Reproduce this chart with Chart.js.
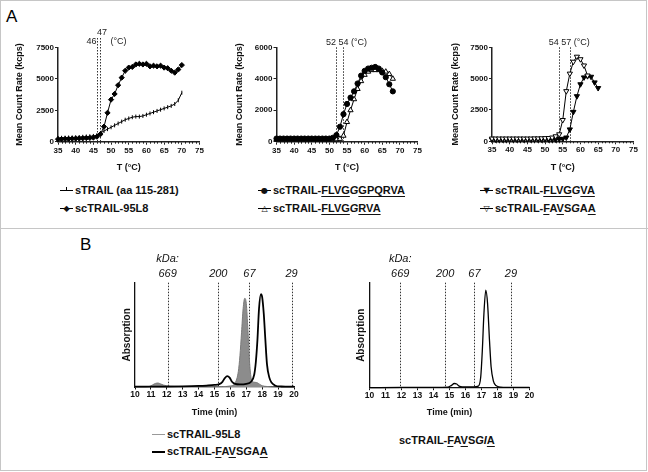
<!DOCTYPE html>
<html><head><meta charset="utf-8">
<script src="https://cdn.jsdelivr.net/npm/chart.js@4.4.1/dist/chart.umd.min.js"></script>
<style>
body{margin:0;background:#fff;}
#fig{position:relative;width:648px;height:472px;overflow:hidden;font-family:"Liberation Sans",Arial,sans-serif;color:#000;background:#fff}
.frame{position:absolute;left:0px;top:0px;width:645px;height:469px;border:1.5px solid #c6c6c6}
.divider{position:absolute;left:0px;top:228px;width:648px;height:0;border-top:1.5px solid #c6c6c6}
canvas{position:absolute}
.panel{position:absolute;font-size:17px;line-height:17px}
.leg{position:absolute;font-weight:bold;font-size:11px;line-height:13px;white-space:nowrap;color:#111}
.leg u{text-underline-offset:1.5px}
.leg .it{font-style:italic}
.mk{display:inline-block;position:relative;width:13px;height:11px;vertical-align:-2px;margin-right:2px}
.mk .ln{position:absolute;left:0;right:0;top:5px;height:0;border-top:1px solid #000}
.mk .g{position:absolute;left:50%;top:5.5px;transform:translate(-50%,-50%);font-size:8px;line-height:8px;font-family:"DejaVu Sans",sans-serif;font-weight:normal;font-style:normal;background:transparent}
.mk .vt{position:absolute;left:6px;top:2px;width:1px;height:4px;background:#000}
.mk .thin{border-top:1px solid #999}
.mk .thick{border-top:2px solid #000;top:4.5px}
</style>
</head><body>
<div id="fig">
  <div class="frame"></div>
  <div class="divider"></div>
  <div class="panel" style="left:6px;top:8px">A</div>
  <div class="panel" style="left:80px;top:236px">B</div>

  <div class="leg" style="left:60px;top:184px"><span class="mk"><span class="ln"></span><span class="vt"></span></span>sTRAIL (aa 115-281)</div>
  <div class="leg" style="left:60px;top:202px"><span class="mk"><span class="ln"></span><span class="g">◆</span></span>scTRAIL-95L8</div>

  <div class="leg" style="left:258px;top:184px"><span class="mk"><span class="ln"></span><span class="g">●</span></span>scTRAIL-<u>FLVG</u><span class="it">G</span><u>GPQRVA</u></div>
  <div class="leg" style="left:258px;top:202px"><span class="mk"><span class="ln"></span><span class="g">△</span></span>scTRAIL-<u>FLVG</u><span class="it">G</span><u>RVA</u></div>

  <div class="leg" style="left:480px;top:184px"><span class="mk"><span class="ln"></span><span class="g">▼</span></span>scTRAIL-<u>FLVG</u><span class="it">G</span><u>VA</u></div>
  <div class="leg" style="left:480px;top:202px"><span class="mk"><span class="ln"></span><span class="g">▽</span></span>scTRAIL-<u>F</u>A<u>V</u>S<span class="it">G</span>A<u>A</u></div>

  <div class="leg" style="left:152px;top:428px"><span class="mk"><span class="ln thin"></span></span>scTRAIL-95L8</div>
  <div class="leg" style="left:152px;top:445px"><span class="mk"><span class="ln thick"></span></span>scTRAIL-<u>F</u>A<u>V</u>S<span class="it">G</span>A<u>A</u></div>
  <div class="leg" style="left:399px;top:434px">scTRAIL-<u>F</u>A<u>V</u>S<span class="it">GI</span><u>A</u></div>
</div>
<script>
// ---------- Panel A data (Mean Count Rate, kcps) ----------
const tempA1 = [35,36,37,38,39,40,41,42,43,44,45,46,47,48,49,50,51,52,53,54,55,56,57,58,59,60,61,62,63,64,65,66,67,68,69,70];
const rateSTRAIL = [300,310,320,330,340,350,370,390,410,430,460,520,700,850,1000,1150,1300,1450,1600,1750,1850,1950,2000,2000,2050,2150,2250,2350,2450,2550,2650,2750,2850,3000,3300,3900];
const rate95L8 = [200,210,220,230,240,250,260,270,290,300,330,400,600,1200,2300,3350,3800,4500,5100,5650,5900,5950,6150,6200,6150,6200,6000,6050,6000,6050,5900,5850,5650,5500,5750,6100];

const tempA2 = [35,36,37,38,39,40,41,42,43,44,45,46,47,48,49,50,51,52,53,54,55,56,57,58,59,60,61,62,63,64,65,66,67,68];
const rateFLVGGGPQRVA = [200,200,200,200,200,200,200,200,200,200,200,200,200,200,200,200,250,420,950,1750,2400,2800,3200,3700,4200,4500,4650,4700,4750,4650,4400,4100,3650,3200];
const rateFLVGGRVA = [150,150,150,150,150,150,150,150,150,150,150,150,150,150,150,150,150,150,180,380,1250,2000,2700,3350,3850,4250,4450,4550,4550,4550,4500,4450,4300,4000];

const tempA3a = [35,36,37,38,39,40,41,42,43,44,45,46,47,48,49,50,51,52,53,54,55,56,57,58,59,60,61,62,63,64,65];
const rateFLVGGVA = [150,150,150,150,150,150,150,150,150,150,150,150,150,150,150,150,150,150,150,180,200,300,950,2350,3600,4550,5100,5200,5150,4700,4250];
const tempA3b = [35,36,37,38,39,40,41,42,43,44,45,46,47,48,49,50,51,52,53,54,55,56,57,58,59,60,61,62];
const rateFAVSGAA = [220,220,220,220,220,220,220,220,220,220,220,220,230,230,240,250,260,300,400,560,1700,4000,5400,6350,6750,6550,6050,5250];

const meltA1 = [46, 47];
const meltA2 = [52, 54];
const meltA3 = [54, 57];

// ---------- Panel B data (SEC, relative absorption) ----------
const timeB1a = [10,10.5,10.9,11.1,11.3,11.45,11.6,11.8,12.0,12.5,13,14,15,15.5,16.0,16.3,16.5,16.6,16.7,16.8,16.9,17.0,17.1,17.2,17.3,17.4,17.55,17.7,17.85,18.0,18.3,18.6,19,20];
const absB1a = [0,0,0.005,0.02,0.035,0.038,0.03,0.018,0.012,0.006,0.003,0.002,0.002,0.004,0.01,0.04,0.15,0.3,0.52,0.75,0.85,0.8,0.55,0.25,0.09,0.05,0.045,0.04,0.025,0.012,0.005,0.002,0,0];
const timeB1b = [10,11,12,13,14,14.5,15.0,15.3,15.5,15.65,15.8,15.95,16.1,16.3,16.6,17.0,17.3,17.5,17.6,17.7,17.8,17.92,18.0,18.1,18.2,18.3,18.45,18.6,18.8,19.2,20];
const absB1b = [0.003,0.003,0.004,0.006,0.01,0.014,0.02,0.028,0.05,0.085,0.105,0.09,0.05,0.03,0.025,0.03,0.05,0.12,0.24,0.45,0.75,0.89,0.86,0.7,0.45,0.22,0.09,0.04,0.015,0.005,0.003];
const timeB2 = [10,12,14,14.9,15.1,15.3,15.45,15.6,15.8,16.5,16.8,16.95,17.05,17.15,17.27,17.38,17.5,17.6,17.75,17.9,18.2,19,20];
const absB2 = [0,0.003,0.004,0.006,0.02,0.04,0.035,0.015,0.008,0.008,0.015,0.1,0.35,0.7,0.93,0.8,0.45,0.2,0.06,0.02,0.006,0.003,0.003];

const kdaNames = ['669','200','67','29'];
const kdaB1 = [12.05, 15.24, 17.2, 19.85];
const kdaB2 = [11.92, 14.73, 16.56, 18.84];

// ---------- helpers ----------
const FAM = '"Liberation Sans", Arial, sans-serif';
const pts = (xs, ys) => xs.map((x, i) => ({x, y: ys[i]}));

function placeCanvas(id, b) {
  const c = document.createElement('canvas');
  c.id = id;
  c.width = b.r - b.l; c.height = b.b - b.t;
  c.style.left = b.l + 'px'; c.style.top = b.t + 'px';
  c.style.width = (b.r - b.l) + 'px'; c.style.height = (b.b - b.t) + 'px';
  document.getElementById('fig').appendChild(c);
  return c;
}

function meltPlugin(melts, style) {
  return {
    id: 'melt',
    beforeDatasetsDraw(chart) {
      const {ctx, chartArea: ca, scales: {x}} = chart;
      ctx.save();
      // minor ticks
      ctx.strokeStyle = '#222'; ctx.lineWidth = 1;
      for (let v = 35; v <= 75; v++) {
        if (v % 5 === 0) continue;
        const px = Math.round(x.getPixelForValue(v)) + 0.5;
        ctx.beginPath(); ctx.moveTo(px, ca.bottom); ctx.lineTo(px, ca.bottom + 2); ctx.stroke();
      }
      ctx.setLineDash([1.5, 1.5]); ctx.strokeStyle = '#333'; ctx.lineWidth = 1;
      const top = ca.top - style.ext;
      melts.forEach(m => {
        const px = Math.round(x.getPixelForValue(m)) + 0.5;
        ctx.beginPath(); ctx.moveTo(px, top); ctx.lineTo(px, ca.bottom); ctx.stroke();
      });
      ctx.setLineDash([]);
      ctx.fillStyle = '#222'; ctx.font = '9px ' + FAM; ctx.textBaseline = 'middle';
      const p0 = x.getPixelForValue(melts[0]), p1 = x.getPixelForValue(melts[1]);
      if (style.above) {
        ctx.textAlign = 'right';
        ctx.fillText(String(melts[0]), p0 - 0.5, ca.top + style.dy0);
        ctx.textAlign = 'center';
        ctx.fillText(String(melts[1]), p1 + 1.5, ca.top + style.dy1);
        ctx.textAlign = 'left';
        ctx.fillText('(°C)', p1 + style.cgap, ca.top + style.dy0);
      } else {
        const s0 = String(melts[0]);
        const w0 = ctx.measureText(s0).width;
        ctx.textAlign = 'left';
        ctx.fillText(s0 + ' ' + melts[1] + ' (°C)', p0 - w0 - 0.5, ca.top + style.dy0);
      }
      ctx.restore();
    }
  };
}

function meltChart(id, box, plot, yMax, yStep, datasets, melts, style) {
  const c = placeCanvas(id, box);
  return new Chart(c, {
    type: 'line',
    data: {datasets},
    options: {
      responsive: false, animation: false, devicePixelRatio: 1,
      layout: {padding: {left: 0, top: plot.t - box.t, right: box.r - plot.r, bottom: 0}},
      plugins: {legend: {display: false}, tooltip: {enabled: false}},
      elements: {line: {borderColor: '#000', borderWidth: 1, tension: 0}},
      scales: {
        x: {
          type: 'linear', min: 35, max: 75,
          afterFit: s => { s.height = box.b - plot.b; },
          ticks: {stepSize: 5, autoSkip: false, maxRotation: 0, padding: 1, color: '#111', font: {family: FAM, size: 8, weight: 'bold'}, callback: v => String(v)},
          grid: {drawOnChartArea: false, drawTicks: true, tickLength: 3, tickColor: '#222', tickWidth: 1},
          border: {display: true, color: '#222', width: 1.5},
          title: {display: true, text: 'T (°C)', padding: 0, color: '#111', font: {family: FAM, size: 9, weight: 'bold'}}
        },
        y: {
          min: 0, max: yMax,
          afterFit: s => { s.width = plot.l - box.l; },
          ticks: {stepSize: yStep, padding: 1, color: '#111', font: {family: FAM, size: 8, weight: 'bold'}, callback: v => String(v)},
          grid: {drawOnChartArea: false, drawTicks: true, tickLength: 3, tickColor: '#222', tickWidth: 1},
          border: {display: true, color: '#222', width: 1.5},
          title: {display: true, text: 'Mean Count Rate (kcps)', padding: 0, color: '#111', font: {family: FAM, size: 9, weight: 'bold'}}
        }
      }
    },
    plugins: [meltPlugin(melts, style)]
  });
}

function series(data, pointStyle, fill, extra) {
  return Object.assign({
    data, showLine: true, borderColor: '#000', borderWidth: 1, clip: false,
    pointStyle, pointRadius: 2.6, pointBorderColor: '#000', pointBorderWidth: 1,
    pointBackgroundColor: fill
  }, extra || {});
}

// Panel A charts
meltChart('a1', {l: 14, t: 20, r: 212, b: 173}, {l: 58, t: 47.5, r: 199.5, b: 141.7}, 7500, 2500, [
  series(pts(tempA1, rate95L8), 'rectRot', '#000', {pointRadius: 2.6}),
  series(pts(tempA1, rateSTRAIL), 'line', '#000', {pointRotation: 90, pointRadius: 2})
], meltA1, {ext: 9.5, dy0: -6, dy1: -14.5, above: true, cgap: 10});

meltChart('a2', {l: 234, t: 20, r: 430, b: 173}, {l: 276.5, t: 47.3, r: 417.5, b: 141.7}, 6000, 2000, [
  series(pts(tempA2, rateFLVGGGPQRVA), 'circle', '#000', {pointRadius: 2.6}),
  series(pts(tempA2, rateFLVGGRVA), 'triangle', '#fff', {pointRadius: 3})
], meltA2, {ext: 0, dy0: -5, dy1: -5, above: false, cgap: 3});

meltChart('a3', {l: 450, t: 20, r: 646, b: 173}, {l: 492, t: 47.3, r: 633.5, b: 141.3}, 7500, 2500, [
  series(pts(tempA3b, rateFAVSGAA), 'triangle', '#fff', {pointRadius: 3, pointRotation: 180}),
  series(pts(tempA3a, rateFLVGGVA), 'triangle', '#000', {pointRadius: 3, pointRotation: 180})
], meltA3, {ext: 0, dy0: -5, dy1: -5, above: false, cgap: 3});

// Panel B charts
function kdaPlugin(pos) {
  return {
    id: 'kda',
    beforeDatasetsDraw(chart) {
      const {ctx, chartArea: ca, scales: {x}} = chart;
      ctx.save();
      ctx.setLineDash([1.5, 1.5]); ctx.strokeStyle = '#333'; ctx.lineWidth = 1;
      pos.forEach(v => {
        const px = Math.round(x.getPixelForValue(v)) + 0.5;
        ctx.beginPath(); ctx.moveTo(px, ca.top); ctx.lineTo(px, ca.bottom); ctx.stroke();
      });
      ctx.setLineDash([]);
      ctx.fillStyle = '#111'; ctx.font = 'italic 11px ' + FAM; ctx.textAlign = 'center'; ctx.textBaseline = 'middle';
      pos.forEach((v, i) => ctx.fillText(kdaNames[i], x.getPixelForValue(v), ca.top - 9));
      ctx.fillText('kDa:', x.getPixelForValue(pos[0]), ca.top - 24);
      ctx.restore();
    }
  };
}

function secChart(id, box, plot, datasets, pos) {
  const c = placeCanvas(id, box);
  return new Chart(c, {
    type: 'line',
    data: {datasets},
    options: {
      responsive: false, animation: false, devicePixelRatio: 1,
      layout: {padding: {left: 0, top: plot.t - box.t, right: box.r - plot.r, bottom: 0}},
      plugins: {legend: {display: false}, tooltip: {enabled: false}},
      scales: {
        x: {
          type: 'linear', min: 10, max: 20,
          afterFit: s => { s.height = box.b - plot.b; },
          ticks: {stepSize: 1, autoSkip: false, maxRotation: 0, padding: 0.5, color: '#111', font: {family: FAM, size: 8.5, weight: 'bold'}},
          grid: {drawOnChartArea: false, drawTicks: true, tickLength: 2.5, tickColor: '#111', tickWidth: 1},
          border: {display: true, color: '#111', width: 1.3},
          title: {display: true, text: 'Time (min)', padding: 0, color: '#111', font: {family: FAM, size: 9, weight: 'bold'}}
        },
        y: {
          min: 0, max: 1,
          afterFit: s => { s.width = plot.l - box.l; },
          ticks: {display: false},
          grid: {drawOnChartArea: false, drawTicks: false},
          border: {display: true, color: '#111', width: 1.3},
          title: {display: true, text: 'Absorption', padding: 0, color: '#111', font: {family: FAM, size: 10, weight: 'bold'}}
        }
      }
    },
    plugins: [kdaPlugin(pos)]
  });
}

const secLine = {showLine: true, pointRadius: 0, tension: 0.4, cubicInterpolationMode: 'monotone', clip: false};

secChart('b1', {l: 121, t: 250, r: 310, b: 418}, {l: 135, t: 282.7, r: 294, b: 387}, [
  Object.assign({data: pts(timeB1b, absB1b), borderColor: '#000', borderWidth: 1.8, fill: false, order: 0}, secLine),
  Object.assign({data: pts(timeB1a, absB1a), borderColor: '#7a7a7a', borderWidth: 1, backgroundColor: '#8c8c8c', fill: 'origin', order: 1}, secLine)
], kdaB1);

secChart('b2', {l: 355, t: 250, r: 545, b: 418}, {l: 369.5, t: 282.7, r: 529.5, b: 387.7}, [
  Object.assign({data: pts(timeB2, absB2), borderColor: '#000', borderWidth: 1.3, fill: false}, secLine)
], kdaB2);
</script>
</body></html>
